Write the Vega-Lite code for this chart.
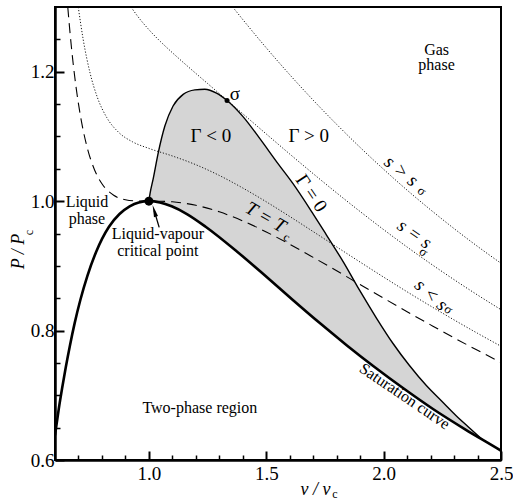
{
  "$schema": "https://vega.github.io/schema/vega-lite/v6.json",
  "width": 446,
  "height": 453,
  "autosize": "none",
  "padding": {"left": 55, "top": 7, "right": 12, "bottom": 40},
  "background": "white",
  "config": {
    "view": {"stroke": "black", "strokeWidth": 2},
    "font": "Liberation Serif",
    "axis": {
      "grid": false,
      "domainColor": "black",
      "domainWidth": 2.5,
      "tickColor": "black",
      "labelColor": "black",
      "titleColor": "black",
      "labelFont": "Liberation Serif",
      "titleFont": "Liberation Serif",
      "titleFontWeight": "normal"
    },
    "text": {"font": "Liberation Serif", "color": "black"}
  },
  "datasets": {
    "saturation": [
      {"v": 0.6, "P": 0.638}, {"v": 0.6034, "P": 0.647}, {"v": 0.616, "P": 0.6788},
      {"v": 0.6301, "P": 0.7104}, {"v": 0.6459, "P": 0.7433}, {"v": 0.6637, "P": 0.7771},
      {"v": 0.684, "P": 0.8119}, {"v": 0.7082, "P": 0.8476}, {"v": 0.7377, "P": 0.8842},
      {"v": 0.7755, "P": 0.9219}, {"v": 0.83, "P": 0.9605}, {"v": 0.8748, "P": 0.9801},
      {"v": 0.918, "P": 0.992}, {"v": 0.957, "P": 0.998}, {"v": 1.0, "P": 1.0},
      {"v": 1.047, "P": 0.998}, {"v": 1.097, "P": 0.992}, {"v": 1.162, "P": 0.9801},
      {"v": 1.2417, "P": 0.9605}, {"v": 1.376, "P": 0.9219}, {"v": 1.497, "P": 0.8842},
      {"v": 1.612, "P": 0.8476}, {"v": 1.7267, "P": 0.8119}, {"v": 1.8436, "P": 0.7771},
      {"v": 1.9626, "P": 0.7433}, {"v": 2.0854, "P": 0.7104}, {"v": 2.2103, "P": 0.6788},
      {"v": 2.3488, "P": 0.647}, {"v": 2.4892, "P": 0.6167}, {"v": 2.5, "P": 0.6143}
    ],
    "gammaZero": [
      {"v": 1.0, "P": 1.0}, {"v": 1.005, "P": 1.012}, {"v": 1.018, "P": 1.034},
      {"v": 1.04, "P": 1.075}, {"v": 1.068, "P": 1.116}, {"v": 1.103, "P": 1.147},
      {"v": 1.146, "P": 1.165}, {"v": 1.196, "P": 1.172}, {"v": 1.238, "P": 1.173},
      {"v": 1.288, "P": 1.167}, {"v": 1.333, "P": 1.1555}, {"v": 1.4, "P": 1.131},
      {"v": 1.472, "P": 1.097}, {"v": 1.55, "P": 1.058}, {"v": 1.614, "P": 1.027},
      {"v": 1.7, "P": 0.98}, {"v": 1.756, "P": 0.948}, {"v": 1.83, "P": 0.905},
      {"v": 1.898, "P": 0.862}, {"v": 1.97, "P": 0.819}, {"v": 2.04, "P": 0.78},
      {"v": 2.11, "P": 0.746}, {"v": 2.182, "P": 0.715}, {"v": 2.25, "P": 0.69},
      {"v": 2.309, "P": 0.6685}, {"v": 2.36, "P": 0.6515}, {"v": 2.42, "P": 0.6316}
    ],
    "negativeGammaRegion": [
      {"v": 1.0, "P": 1.0, "P2": 1.0}, {"v": 1.005, "P": 1.012, "P2": 1.0},
      {"v": 1.018, "P": 1.034, "P2": 0.9996}, {"v": 1.04, "P": 1.075, "P2": 0.9985},
      {"v": 1.068, "P": 1.116, "P2": 0.9958}, {"v": 1.103, "P": 1.147, "P2": 0.9912},
      {"v": 1.146, "P": 1.165, "P2": 0.983}, {"v": 1.196, "P": 1.172, "P2": 0.972},
      {"v": 1.238, "P": 1.173, "P2": 0.961}, {"v": 1.288, "P": 1.167, "P2": 0.947},
      {"v": 1.333, "P": 1.1555, "P2": 0.9343}, {"v": 1.4, "P": 1.131, "P2": 0.9144},
      {"v": 1.472, "P": 1.097, "P2": 0.892}, {"v": 1.55, "P": 1.058, "P2": 0.8673},
      {"v": 1.614, "P": 1.027, "P2": 0.847}, {"v": 1.7, "P": 0.98, "P2": 0.8202},
      {"v": 1.756, "P": 0.948, "P2": 0.8033}, {"v": 1.83, "P": 0.905, "P2": 0.7811},
      {"v": 1.898, "P": 0.862, "P2": 0.7617}, {"v": 1.97, "P": 0.819, "P2": 0.7413},
      {"v": 2.04, "P": 0.78, "P2": 0.7226}, {"v": 2.11, "P": 0.746, "P2": 0.7042},
      {"v": 2.182, "P": 0.715, "P2": 0.686}, {"v": 2.25, "P": 0.69, "P2": 0.6697},
      {"v": 2.309, "P": 0.6685, "P2": 0.6561}, {"v": 2.36, "P": 0.6515, "P2": 0.6446},
      {"v": 2.42, "P": 0.6316, "P2": 0.6316}
    ],
    "criticalIsotherm": [
      {"v": 0.6545, "P": 1.2997}, {"v": 0.66, "P": 1.2762}, {"v": 0.67, "P": 1.2378},
      {"v": 0.68, "P": 1.2044}, {"v": 0.69, "P": 1.1754}, {"v": 0.71, "P": 1.1284},
      {"v": 0.72, "P": 1.1096}, {"v": 0.74, "P": 1.0789}, {"v": 0.77, "P": 1.047},
      {"v": 0.8, "P": 1.0268}, {"v": 0.85, "P": 1.0091}, {"v": 0.9, "P": 1.0022},
      {"v": 0.95, "P": 1.0002}, {"v": 1.0, "P": 1.0}, {"v": 1.05, "P": 0.9998},
      {"v": 1.1, "P": 0.999}, {"v": 1.2, "P": 0.9936}, {"v": 1.3, "P": 0.9835},
      {"v": 1.4, "P": 0.9694}, {"v": 1.5, "P": 0.9524}, {"v": 1.6, "P": 0.9334},
      {"v": 1.7, "P": 0.9131}, {"v": 1.8, "P": 0.8923}, {"v": 1.9, "P": 0.8711},
      {"v": 2.0, "P": 0.85}, {"v": 2.1, "P": 0.8291}, {"v": 2.2, "P": 0.8088},
      {"v": 2.3, "P": 0.7888}, {"v": 2.4, "P": 0.7695}, {"v": 2.5, "P": 0.7508}
    ],
    "isentropes": [
      {"s": "above", "v": 1.357, "P": 1.3}, {"s": "above", "v": 1.4, "P": 1.2806},
      {"s": "above", "v": 1.5, "P": 1.2369}, {"s": "above", "v": 1.6, "P": 1.1954},
      {"s": "above", "v": 1.7, "P": 1.156}, {"s": "above", "v": 1.8, "P": 1.1186},
      {"s": "above", "v": 1.9, "P": 1.083}, {"s": "above", "v": 2.0, "P": 1.0492},
      {"s": "above", "v": 2.1, "P": 1.017}, {"s": "above", "v": 2.2, "P": 0.9866},
      {"s": "above", "v": 2.3, "P": 0.9576}, {"s": "above", "v": 2.4, "P": 0.9301},
      {"s": "above", "v": 2.5, "P": 0.904},
      {"s": "sigma", "v": 0.924, "P": 1.2999}, {"s": "sigma", "v": 0.95, "P": 1.2867},
      {"s": "sigma", "v": 1.0, "P": 1.265}, {"s": "sigma", "v": 1.05, "P": 1.2463},
      {"s": "sigma", "v": 1.1, "P": 1.2294}, {"s": "sigma", "v": 1.15, "P": 1.2132},
      {"s": "sigma", "v": 1.2, "P": 1.1974}, {"s": "sigma", "v": 1.25, "P": 1.1818},
      {"s": "sigma", "v": 1.3, "P": 1.1662}, {"s": "sigma", "v": 1.4, "P": 1.135},
      {"s": "sigma", "v": 1.5, "P": 1.1038}, {"s": "sigma", "v": 1.6, "P": 1.0728},
      {"s": "sigma", "v": 1.7, "P": 1.0424}, {"s": "sigma", "v": 1.8, "P": 1.0127},
      {"s": "sigma", "v": 1.9, "P": 0.9839}, {"s": "sigma", "v": 2.0, "P": 0.956},
      {"s": "sigma", "v": 2.1, "P": 0.9291}, {"s": "sigma", "v": 2.2, "P": 0.9034},
      {"s": "sigma", "v": 2.3, "P": 0.8787}, {"s": "sigma", "v": 2.4, "P": 0.855},
      {"s": "sigma", "v": 2.5, "P": 0.8323},
      {"s": "below", "v": 0.699, "P": 1.3}, {"s": "below", "v": 0.72, "P": 1.25},
      {"s": "below", "v": 0.75, "P": 1.1971}, {"s": "below", "v": 0.78, "P": 1.1608},
      {"s": "below", "v": 0.82, "P": 1.1295}, {"s": "below", "v": 0.87, "P": 1.1067},
      {"s": "below", "v": 0.93, "P": 1.0917}, {"s": "below", "v": 1.0, "P": 1.0815},
      {"s": "below", "v": 1.1, "P": 1.0698}, {"s": "below", "v": 1.2, "P": 1.0563},
      {"s": "below", "v": 1.3, "P": 1.0397}, {"s": "below", "v": 1.4, "P": 1.0203},
      {"s": "below", "v": 1.5, "P": 0.999}, {"s": "below", "v": 1.6, "P": 0.9763},
      {"s": "below", "v": 1.7, "P": 0.9529}, {"s": "below", "v": 1.8, "P": 0.9293},
      {"s": "below", "v": 1.9, "P": 0.9058}, {"s": "below", "v": 2.0, "P": 0.8826},
      {"s": "below", "v": 2.1, "P": 0.8599}, {"s": "below", "v": 2.2, "P": 0.8379},
      {"s": "below", "v": 2.3, "P": 0.8165}, {"s": "below", "v": 2.4, "P": 0.7958},
      {"s": "below", "v": 2.5, "P": 0.7758}
    ],
    "regionLabels": [
      {"v": 2.2255, "P": 1.2338, "label": "Gas"},
      {"v": 2.2255, "P": 1.21, "label": "phase"},
      {"v": 0.7362, "P": 0.9985, "label": "Liquid"},
      {"v": 0.7362, "P": 0.9731, "label": "phase"},
      {"v": 1.0383, "P": 0.9492, "label": "Liquid-vapour"},
      {"v": 1.0383, "P": 0.9231, "label": "critical point"},
      {"v": 1.217, "P": 0.68, "label": "Two-phase region"}
    ],
    "gammaLabels": [
      {"v": 1.2638, "P": 1.1008, "label": "Γ < 0"},
      {"v": 1.6809, "P": 1.1008, "label": "Γ > 0"},
      {"v": 1.366, "P": 1.1662, "label": "σ"}
    ]
  },
  "layer": [
    {
      "encoding": {
        "x": {
          "field": "v",
          "type": "quantitative",
          "scale": {"domain": [0.6, 2.5], "nice": false, "zero": false},
          "axis": {
            "title": "v / v",
            "titleFontStyle": "italic",
            "titleFontSize": 18,
            "titleAlign": "center",
            "titleBaseline": "middle",
            "titleX": 260,
            "titleY": 29,
            "values": [0.7, 0.8, 0.9, 1.0, 1.1, 1.2, 1.3, 1.4, 1.5, 1.6, 1.7, 1.8, 1.9, 2.0, 2.1, 2.2, 2.3, 2.4, 2.5],
            "labelExpr": "abs(datum.value * 2 - round(datum.value * 2)) < 0.001 ? format(datum.value, '.1f') : ''",
            "labelFontSize": 19,
            "labelFlush": false,
            "labelOverlap": false,
            "labelPadding": 13,
            "tickSize": {"condition": {"test": "abs(datum.value * 2 - round(datum.value * 2)) < 0.001", "value": -9}, "value": -5},
            "tickWidth": {"condition": {"test": "abs(datum.value * 2 - round(datum.value * 2)) < 0.001", "value": 2}, "value": 1.5}
          }
        },
        "y": {
          "field": "P",
          "type": "quantitative",
          "scale": {"domain": [0.6, 1.3], "nice": false, "zero": false},
          "axis": {
            "title": "P / P",
            "titleFontStyle": "italic",
            "titleFontSize": 18,
            "titleAngle": -90,
            "titleAlign": "center",
            "titleBaseline": "middle",
            "titleX": -36.5,
            "titleY": 244,
            "values": [0.6, 0.65, 0.7, 0.75, 0.8, 0.85, 0.9, 0.95, 1.0, 1.05, 1.1, 1.15, 1.2, 1.25],
            "labelExpr": "abs(datum.value * 5 - round(datum.value * 5)) < 0.001 ? format(datum.value, '.1f') : ''",
            "labelFontSize": 19,
            "labelOverlap": false,
            "labelPadding": 10,
            "tickSize": {"condition": {"test": "abs(datum.value * 5 - round(datum.value * 5)) < 0.001", "value": -9}, "value": -5},
            "tickWidth": {"condition": {"test": "abs(datum.value * 5 - round(datum.value * 5)) < 0.001", "value": 2}, "value": 1.5}
          }
        }
      },
      "layer": [
        {
          "data": {"name": "negativeGammaRegion"},
          "mark": {"type": "area", "color": "#d5d5d5", "interpolate": "monotone", "clip": true},
          "encoding": {"y2": {"field": "P2"}}
        },
        {
          "data": {"name": "isentropes"},
          "mark": {"type": "line", "color": "black", "strokeWidth": 0.9, "strokeDash": [1.2, 1.8], "interpolate": "monotone", "clip": true},
          "encoding": {"detail": {"field": "s"}}
        },
        {
          "data": {"name": "criticalIsotherm"},
          "mark": {"type": "line", "color": "black", "strokeWidth": 1.1, "strokeDash": [10, 6], "interpolate": "monotone", "clip": true},
          "encoding": {}
        },
        {
          "data": {"name": "gammaZero"},
          "mark": {"type": "line", "color": "black", "strokeWidth": 1.4, "interpolate": "monotone", "clip": true},
          "encoding": {}
        },
        {
          "data": {"name": "saturation"},
          "mark": {"type": "line", "color": "black", "strokeWidth": 2.6, "interpolate": "monotone", "clip": true},
          "encoding": {}
        },
        {
          "data": {"values": [{"v": 1.0, "P": 1.0}]},
          "mark": {"type": "point", "shape": "circle", "filled": true, "color": "black", "opacity": 1, "size": 81}
        },
        {
          "data": {"values": [{"v": 1.023, "P": 0.985}, {"v": 1.0438, "P": 0.9595}]},
          "mark": {"type": "line", "color": "black", "strokeWidth": 1.3},
          "encoding": {}
        },
        {
          "data": {"values": [{"v": 1.023, "P": 0.985}]},
          "mark": {"type": "point", "shape": "M0,-1L0.35,1L-0.35,1Z", "filled": true, "color": "black", "opacity": 1, "size": 144, "angle": -16.5}
        },
        {
          "data": {"name": "regionLabels"},
          "mark": {"type": "text", "fontSize": 16, "align": "center", "baseline": "middle"},
          "encoding": {"text": {"field": "label"}}
        },
        {
          "data": {"name": "gammaLabels"},
          "mark": {"type": "text", "fontSize": 19, "align": "center", "baseline": "middle"},
          "encoding": {"text": {"field": "label"}}
        },
        {
          "data": {"values": [{"v": 1.6923, "P": 1.0123, "label": "Γ = 0"}]},
          "mark": {"type": "text", "fontSize": 19, "angle": 56, "align": "center", "baseline": "middle"},
          "encoding": {"text": {"field": "label"}}
        },
        {
          "data": {"values": [{"v": 1.4979, "P": 0.9754, "label": "T = T"}]},
          "mark": {"type": "text", "fontSize": 19, "fontStyle": "italic", "angle": 30, "align": "center", "baseline": "middle"},
          "encoding": {"text": {"field": "label"}}
        },
        {
          "data": {"values": [{"v": 1.5872, "P": 0.9446, "label": "c"}]},
          "mark": {"type": "text", "fontSize": 12, "angle": 30, "align": "center", "baseline": "middle"},
          "encoding": {"text": {"field": "label"}}
        },
        {
          "data": {"values": [{"v": 2.0753, "P": 1.0466, "label": "s > s"}]},
          "mark": {"type": "text", "fontSize": 19, "fontStyle": "italic", "angle": 39, "align": "center", "baseline": "middle"},
          "encoding": {"text": {"field": "label"}}
        },
        {
          "data": {"values": [{"v": 2.1319, "P": 0.9492, "label": "s = s"}]},
          "mark": {"type": "text", "fontSize": 19, "fontStyle": "italic", "angle": 35, "align": "center", "baseline": "middle"},
          "encoding": {"text": {"field": "label"}}
        },
        {
          "data": {"values": [{"v": 2.203, "P": 0.8554, "label": "s < s"}]},
          "mark": {"type": "text", "fontSize": 19, "fontStyle": "italic", "angle": 42, "align": "center", "baseline": "middle"},
          "encoding": {"text": {"field": "label"}}
        },
        {
          "data": {"values": [
            {"v": 2.1625, "P": 1.0155, "label": "σ"},
            {"v": 2.17, "P": 0.9215, "label": "σ"},
            {"v": 2.276, "P": 0.8325, "label": "σ"}
          ]},
          "mark": {"type": "text", "fontSize": 13, "angle": 38, "align": "center", "baseline": "middle"},
          "encoding": {"text": {"field": "label"}}
        },
        {
          "data": {"values": [{"v": 2.0894, "P": 0.6985, "label": "Saturation curve"}]},
          "mark": {"type": "text", "fontSize": 16, "angle": 34, "align": "center", "baseline": "middle"},
          "encoding": {"text": {"field": "label"}}
        }
      ]
    },
    {
      "data": {"values": [{"v": 1.333, "P": 1.1555}]},
      "mark": {"type": "point", "shape": "circle", "filled": true, "color": "black", "opacity": 1, "size": 25},
      "encoding": {
        "x": {
          "field": "v",
          "type": "quantitative",
          "scale": {"domain": [0.6, 2.5], "nice": false, "zero": false},
          "axis": {
            "orient": "bottom",
            "title": "c",
            "titleFontSize": 12,
            "titleAlign": "center",
            "titleBaseline": "middle",
            "titleX": 279.5,
            "titleY": 33,
            "domain": false,
            "ticks": false,
            "labels": false
          }
        },
        "y": {
          "field": "P",
          "type": "quantitative",
          "scale": {"domain": [0.6, 1.3], "nice": false, "zero": false},
          "axis": {
            "orient": "left",
            "title": "c",
            "titleFontSize": 12,
            "titleAngle": -90,
            "titleAlign": "center",
            "titleBaseline": "middle",
            "titleX": -26.5,
            "titleY": 225,
            "domain": false,
            "ticks": false,
            "labels": false
          }
        }
      }
    }
  ],
  "resolve": {"axis": {"x": "independent", "y": "independent"}}
}
